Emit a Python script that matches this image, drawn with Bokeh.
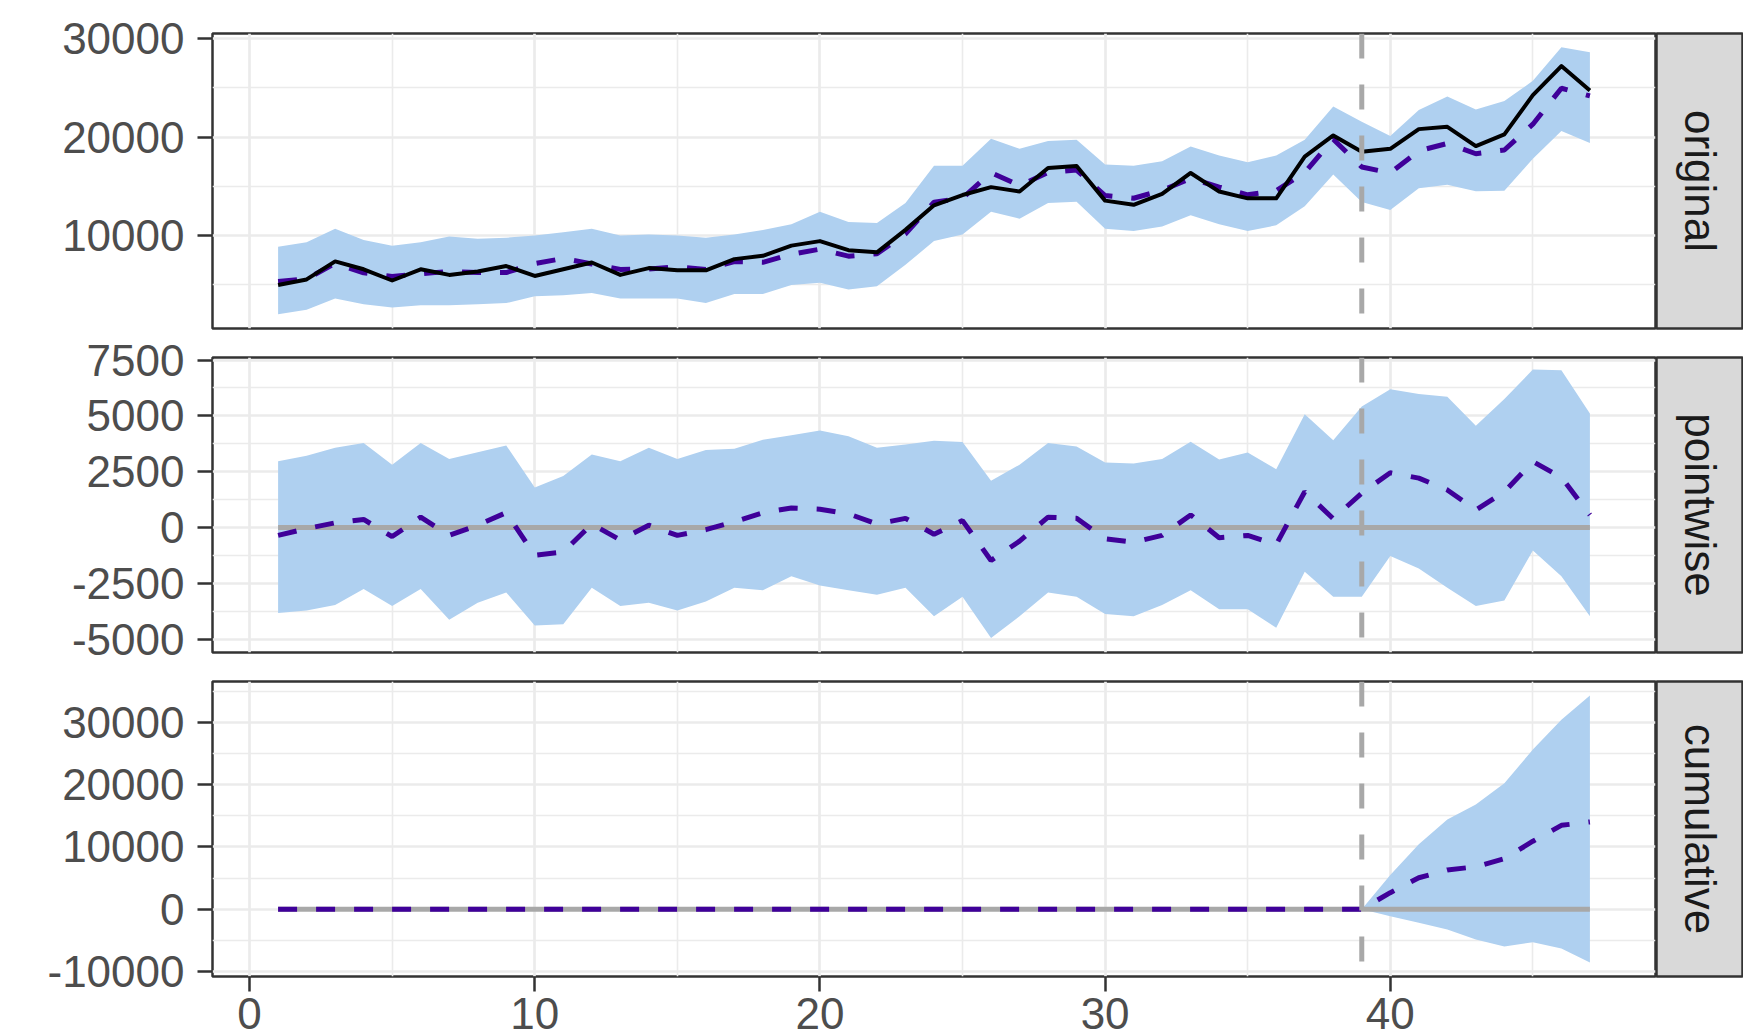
import math
from bokeh.plotting import figure
from bokeh.layouts import column, row
from bokeh.models import Range1d, FixedTicker, Span
from bokeh.core.properties import value
from bokeh.embed import file_html
from bokeh.resources import INLINE

# ---------------- data ----------------
x = list(range(1, 48))
intervention_x = 39

actual = [4970, 5540, 7370, 6570, 5430, 6570, 6000, 6340, 6900, 5890,
          6570, 7260, 6000, 6690, 6460, 6460, 7600, 7940, 8970, 9430,
          8510, 8290, 10570, 13070, 14110, 14910, 14460, 16860, 17050, 13540,
          13120, 14230, 16350, 14460, 13770, 13770, 18000, 20160, 18500, 18800,
          20800, 21030, 19080, 20270, 24250, 27200, 24730]

predicted = [5330, 5590, 7170, 6210, 5840, 6110, 6360, 6240, 6240, 7140,
             7670, 7110, 6560, 6590, 6820, 6560, 7350, 7280, 8100, 8610,
             7900, 8140, 10160, 13380, 13800, 16390, 15070, 16400, 16640, 14050,
             13780, 14590, 15790, 14920, 14130, 14540, 16400, 19780, 16960, 16350,
             18590, 19350, 18300, 18680, 21300, 24950, 24170]

pred_lower = [2000, 2460, 3600, 3030, 2690, 2910, 2910, 3030, 3140, 3830,
              3940, 4170, 3600, 3600, 3600, 3140, 4060, 4060, 4970, 5200,
              4510, 4860, 7030, 9430, 10110, 12400, 11710, 13310, 13430, 10690,
              10460, 10910, 12060, 11140, 10460, 11030, 12970, 16200, 13400, 12600,
              14800, 15150, 14500, 14550, 17800, 20600, 19400]

pred_upper = [8860, 9310, 10690, 9540, 8970, 9310, 9890, 9660, 9770, 10000,
              10340, 10690, 10000, 10110, 10000, 9770, 10110, 10570, 11140, 12400,
              11370, 11260, 13310, 17090, 17090, 19830, 18800, 19600, 19710, 17200,
              17090, 17540, 19030, 18110, 17430, 18110, 19710, 23100, 21550, 20100,
              22750, 24100, 22800, 23650, 25700, 29100, 28600]

point_effect = [-357, -50, 204, 357, -408, 459, -357, 102, 663, -1250,
                -1100, 153, -561, 102, -357, -102, 255, 663, 867, 816,
                612, 153, 408, -306, 306, -1480, -612, 459, 408, -510,
                -663, -357, 561, -459, -357, -765, 1600, 390, 1540, 2450,
                2210, 1680, 780, 1590, 2950, 2245, 561]

point_lower = [-3830, -3720, -3470, -2760, -3520, -2760, -4130, -3370, -2910, -4390,
               -4340, -2700, -3520, -3370, -3720, -3320, -2700, -2810, -2190, -2600,
               -2810, -3010, -2700, -3980, -3110, -4950, -3980, -2910, -3110, -3880,
               -3980, -3470, -2810, -3670, -3670, -4490, -1990, -3110, -3110, -1280,
               -1840, -2700, -3520, -3270, -1030, -2190, -3980]

point_upper = [2960, 3210, 3570, 3780, 2810, 3780, 3060, 3370, 3670, 1790,
               2300, 3270, 2960, 3570, 3060, 3470, 3520, 3930, 4130, 4340,
               4080, 3570, 3720, 3880, 3830, 2090, 2810, 3780, 3620, 2910,
               2860, 3060, 3840, 3040, 3360, 2610, 5070, 3900, 5420, 6190,
               5980, 5850, 4550, 5750, 7070, 7040, 5100]

cum_effect = [0] * 39 + [2650, 5040, 6300, 6800, 8100, 10900, 13450, 14000]
cum_lower = [0] * 39 + [-1120, -2190, -3260, -4870, -6000, -5300, -6300, -8550]
cum_upper = [0] * 39 + [5500, 10400, 14400, 16800, 20200, 25600, 30400, 34300]

panel_names = ["original", "pointwise", "cumulative"]

x_ticks = [0, 10, 20, 30, 40]
x_minor = [5, 15, 25, 35, 45]
y_ticks_orig = [10000, 20000, 30000]
y_minor_orig = [5000, 15000, 25000]
y_ticks_point = [-5000, -2500, 0, 2500, 5000, 7500]
y_minor_point = [-3750, -1250, 1250, 3750, 6250]
y_ticks_cum = [-10000, 0, 10000, 20000, 30000]
y_minor_cum = [-5000, 5000, 15000, 25000, 35000]

# ---------------- style ----------------
FONT = "Liberation Sans"
BAND = "#AFD0F0"
PRED = "#3F0099"
GREY_LINE = "#A8A8A8"
BORDER = "#333333"
GRID = "#EBEBEB"
FRAME_W = 1443
FRAME_H = 295
STRIP_W = 87
LEFT = 212


def make_panel(y_lo, y_hi, yticks, yminor, show_x, top, bottom):
    p = figure(frame_width=FRAME_W, frame_height=FRAME_H,
               x_range=Range1d(-1.3, 49.3), y_range=Range1d(y_lo, y_hi),
               output_backend="svg", toolbar_location=None,
               min_border_left=LEFT, min_border_right=1,
               min_border_top=top, min_border_bottom=bottom,
               background_fill_color="white", border_fill_color="white")
    p.outline_line_color = BORDER
    p.outline_line_width = 2.5

    xt = FixedTicker(ticks=x_ticks, minor_ticks=x_minor)
    yt = FixedTicker(ticks=yticks, minor_ticks=yminor)
    p.xaxis.ticker = xt
    p.yaxis.ticker = yt
    p.xgrid.ticker = xt
    p.ygrid.ticker = yt

    for g in (p.xgrid, p.ygrid):
        g.grid_line_color = GRID
        g.grid_line_width = 2.7
        g.minor_grid_line_color = GRID
        g.minor_grid_line_width = 1.6

    for ax in (p.xaxis, p.yaxis):
        ax.axis_line_color = None
        ax.major_tick_line_color = BORDER
        ax.major_tick_line_width = 2.5
        ax.major_tick_in = 0
        ax.major_tick_out = 15
        ax.minor_tick_line_color = None
        ax.major_label_text_font = FONT
        ax.major_label_text_font_size = "44px"
        ax.major_label_text_color = "#4D4D4D"

    p.yaxis.major_label_standoff = 13
    p.yaxis.major_label_overrides = {t: str(t) for t in yticks}
    p.xaxis.major_label_overrides = {t: str(t) for t in x_ticks}
    p.xaxis.major_label_standoff = 6
    if not show_x:
        p.xaxis.visible = False
    return p


def make_strip(name, top, bottom):
    s = figure(frame_width=STRIP_W, frame_height=FRAME_H,
               x_range=Range1d(-1, 1), y_range=Range1d(-1, 1),
               output_backend="svg", toolbar_location=None,
               x_axis_location=None, y_axis_location=None,
               min_border_left=0, min_border_right=0,
               min_border_top=top, min_border_bottom=bottom,
               background_fill_color="#D9D9D9", border_fill_color="white")
    s.xgrid.grid_line_color = None
    s.ygrid.grid_line_color = None
    s.outline_line_color = BORDER
    s.outline_line_width = 2.5
    s.text(x=[0], y=[0], text=[name], angle=-math.pi / 2,
           text_align="center", text_baseline="middle",
           text_font=value(FONT), text_font_size="44px", text_color="#1A1A1A")
    return s


def vline(p):
    p.add_layout(Span(location=intervention_x, dimension="height",
                      line_color=GREY_LINE, line_width=5, line_dash="25 26"))


# ---- panel 1: original ----
p1 = make_panel(558, 30508, y_ticks_orig, y_minor_orig, False, 33, 5)
p1.varea(x=x, y1=pred_lower, y2=pred_upper, fill_color=BAND, fill_alpha=1)
vline(p1)
p1.line(x, predicted, line_color=PRED, line_width=5, line_dash="19 19")
p1.line(x, actual, line_color="black", line_width=4, line_join="round")

# ---- panel 2: pointwise ----
p2 = make_panel(-5602, 7612, y_ticks_point, y_minor_point, False, 24, 21)
p2.varea(x=x, y1=point_lower, y2=point_upper, fill_color=BAND, fill_alpha=1)
vline(p2)
p2.segment(x0=[x[0]], y0=[0], x1=[x[-1]], y1=[0], line_color=GREY_LINE, line_width=5)
p2.line(x, point_effect, line_color=PRED, line_width=5, line_dash="19 19")

# ---- panel 3: cumulative ----
p3 = make_panel(-10802, 36530, y_ticks_cum, y_minor_cum, True, 8, 60)
p3.varea(x=x, y1=cum_lower, y2=cum_upper, fill_color=BAND, fill_alpha=1)
vline(p3)
p3.segment(x0=[x[0]], y0=[0], x1=[x[-1]], y1=[0], line_color=GREY_LINE, line_width=5)
p3.line(x, cum_effect, line_color=PRED, line_width=5, line_dash="19 19")

s1 = make_strip(panel_names[0], 33, 5)
s2 = make_strip(panel_names[1], 24, 21)
s3 = make_strip(panel_names[2], 8, 60)

layout = column(row(p1, s1), row(p2, s2), row(p3, s3))

open("out.html", "w").write(file_html(layout, INLINE))
